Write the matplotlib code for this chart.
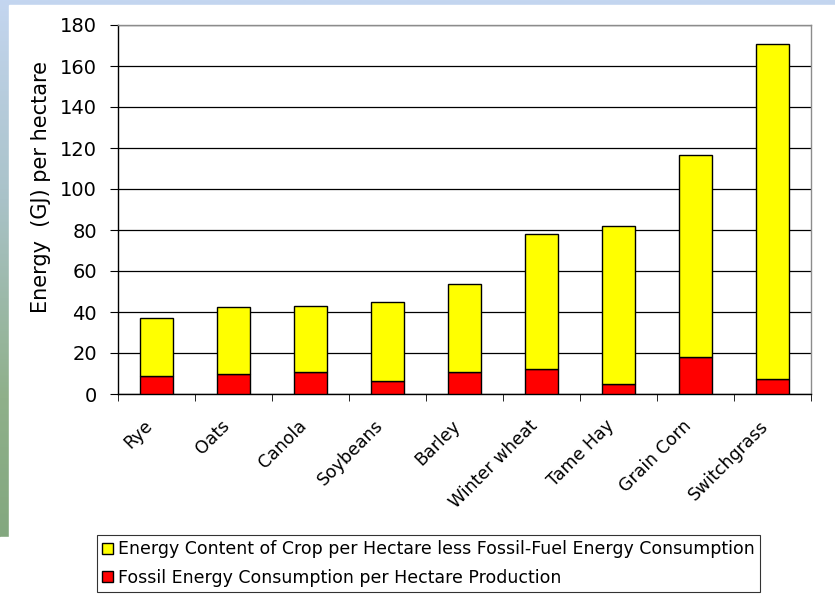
import numpy as np
import matplotlib.pyplot as plt
import matplotlib.transforms as mtransforms
from matplotlib.patches import Rectangle
from matplotlib.colors import LinearSegmentedColormap

crops = ["Rye", "Oats", "Canola", "Soybeans", "Barley", "Winter wheat",
         "Tame Hay", "Grain Corn", "Switchgrass"]
# GJ per hectare
fossil = [8.8, 10.0, 10.7, 6.2, 10.7, 12.2, 4.7, 18.1, 7.4]
net_energy = [28.3, 32.5, 32.4, 38.9, 43.1, 65.8, 77.2, 98.3, 163.3]
yticks = [0, 20, 40, 60, 80, 100, 120, 140, 160, 180]

label_net = "Energy Content of Crop per Hectare less Fossil-Fuel Energy Consumption"
label_fossil = "Fossil Energy Consumption per Hectare Production"

fig = plt.figure(figsize=(8.35, 5.97), dpi=100)

# slide background: blue/green gradient strip on the left, white panel
bg = fig.add_axes([0, 0, 1, 1], zorder=-10)
grad = np.linspace(0, 1, 256).reshape(-1, 1)
cmap = LinearSegmentedColormap.from_list("slide", ["#c4d6f0", "#a9c2c8", "#8fb08a", "#7ea47a"])
bg.imshow(grad, aspect="auto", cmap=cmap, extent=[0, 1, 0, 1], origin="upper")
bg.add_patch(Rectangle((0, 0), 1, 60 / 597, color="white"))
bg.add_patch(Rectangle((9 / 835, 0), 1, 592 / 597, color="white"))
bg.set_xlim(0, 1)
bg.set_ylim(0, 1)
bg.axis("off")

ax = fig.add_axes([118 / 835, 1 - 394 / 597, 693 / 835, 369 / 597])
x = np.arange(len(crops))
w = 0.42
b1 = ax.bar(x, fossil, w, color="#ff0000", edgecolor="black", linewidth=1, zorder=3,
            label=label_fossil)
b2 = ax.bar(x, net_energy, w, bottom=fossil, color="#ffff00", edgecolor="black",
            linewidth=1, zorder=3, label=label_net)

ax.set_xlim(-0.5, len(crops) - 0.5)
ax.set_ylim(0, 180)
ax.set_yticks(yticks)
ax.yaxis.grid(True, color="black", linewidth=0.9)
ax.set_axisbelow(True)

ax.spines["left"].set_color("black")
ax.spines["bottom"].set_color("black")
ax.spines["top"].set_color("#8c8c8c")
ax.spines["right"].set_color("#8c8c8c")
for s in ax.spines.values():
    s.set_linewidth(1)

ax.set_xticks(x)
ax.set_xticklabels(crops, rotation=45, ha="right", va="center",
                   rotation_mode="anchor", fontsize=12.5)
ax.tick_params(axis="x", length=0, pad=21)
shift = mtransforms.ScaledTranslation(-7 / 100, 0, fig.dpi_scale_trans)
for lab in ax.get_xticklabels():
    lab.set_transform(lab.get_transform() + shift)
ax.set_xticks(np.arange(-0.5, len(crops), 1), minor=True)
ax.tick_params(axis="x", which="minor", length=5, direction="out", color="black")
ax.tick_params(axis="y", length=6, direction="out", labelsize=14, pad=9)

ax.set_ylabel("Energy  (GJ) per hectare", fontsize=15)
ax.yaxis.set_label_coords(-0.096, 0.56)

leg = fig.legend([b2, b1], [label_net, label_fossil], loc="lower left",
                 bbox_to_anchor=(97 / 835, 5 / 597), fontsize=12.5,
                 frameon=True, fancybox=False, edgecolor="black",
                 handlelength=0.6, handleheight=0.6, handletextpad=0.3,
                 borderpad=0.3, labelspacing=0.6, borderaxespad=0)
leg.get_frame().set_linewidth(0.8)

fig.savefig("out.png", dpi=100)
